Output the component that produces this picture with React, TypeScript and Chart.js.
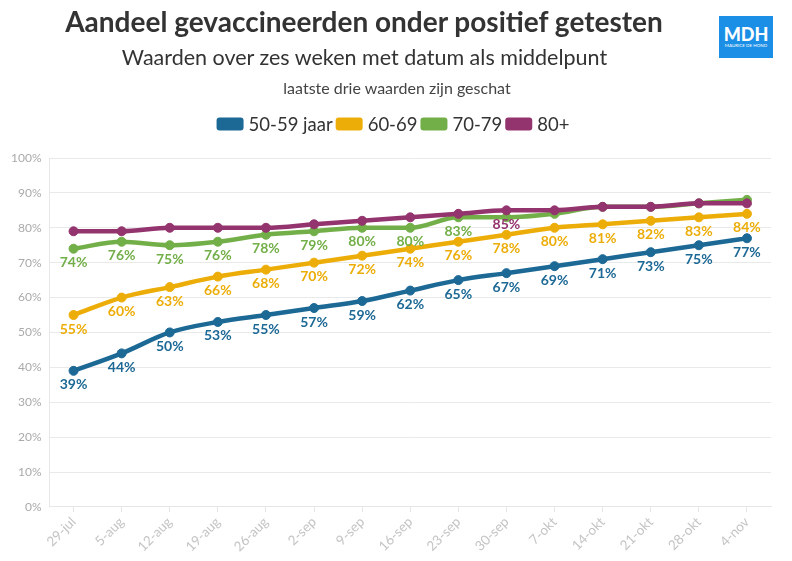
import React, { useEffect, useRef } from "react";
import { Chart, registerables } from "chart.js";

Chart.register(...registerables);

const categories = ["29-jul", "5-aug", "12-aug", "19-aug", "26-aug", "2-sep", "9-sep", "16-sep", "23-sep", "30-sep", "7-okt", "14-okt", "21-okt", "28-okt", "4-nov"];
const seriesNames = ["50-59 jaar", "60-69", "70-79", "80+"];
const seriesColors = ["#1D6996", "#EDAD08", "#73AF48", "#94346E"];
const values5059 = [39, 44, 50, 53, 55, 57, 59, 62, 65, 67, 69, 71, 73, 75, 77];
const values6069 = [55, 60, 63, 66, 68, 70, 72, 74, 76, 78, 80, 81, 82, 83, 84];
const values7079 = [74, 76, 75, 76, 78, 79, 80, 80, 83, 83, 84, 86, 86, 87, 88];
const values80plus = [79, 79, 80, 80, 80, 81, 82, 83, 84, 85, 85, 86, 86, 87, 87];
// which points carry a value label
const labels5059 = [1, 1, 1, 1, 1, 1, 1, 1, 1, 1, 1, 1, 1, 1, 1];
const labels6069 = [1, 1, 1, 1, 1, 1, 1, 1, 1, 1, 1, 1, 1, 1, 1];
const labels7079 = [1, 1, 1, 1, 1, 1, 1, 1, 1, 0, 0, 0, 0, 0, 0];
const labels80plus = [0, 0, 0, 0, 0, 0, 0, 0, 0, 1, 0, 0, 0, 0, 0];
const yMin = 0;
const yMax = 100;
const yStep = 10;

const titleText = "Aandeel gevaccineerden onder positief getesten";
const subtitleText = "Waarden over zes weken met datum als middelpunt";
const noteText = "laatste drie waarden zijn geschat";

const FONT = "Lato, 'Open Sans', sans-serif";

const valueLabelPlugin = {
  id: "valueLabels",
  afterDatasetsDraw(chart: any) {
    const ctx = chart.ctx;
    ctx.save();
    ctx.font = `bold 14px ${FONT}`;
    ctx.textAlign = "center";
    ctx.textBaseline = "middle";
    chart.data.datasets.forEach((ds: any, di: number) => {
      const meta = chart.getDatasetMeta(di);
      if (meta.hidden) return;
      meta.data.forEach((pt: any, i: number) => {
        if (!ds.showLabel || !ds.showLabel[i]) return;
        ctx.fillStyle = ds.borderColor;
        ctx.fillText(`${ds.data[i]}%`, pt.x, pt.y + 14);
      });
    });
    ctx.restore();
  },
};

// compact legend drawn from the datasets
const compactLegendPlugin = {
  id: "compactLegend",
  afterDraw(chart: any) {
    const ctx = chart.ctx;
    ctx.save();
    ctx.font = `18.5px ${FONT}`;
    ctx.textBaseline = "middle";
    ctx.textAlign = "left";
    const boxW = 27, boxH = 13, gapText = 5, gapItem = 3;
    const items = chart.data.datasets.map((ds: any) => ({
      text: ds.label,
      color: ds.borderColor,
      w: ctx.measureText(ds.label).width,
    }));
    const total = items.reduce((s: number, it: any) => s + boxW + gapText + it.w, 0) + gapItem * (items.length - 1);
    let x = 393 - total / 2;
    const cy = 124;
    items.forEach((it: any) => {
      ctx.fillStyle = it.color;
      ctx.beginPath();
      (ctx as any).roundRect(x, cy - boxH / 2, boxW, boxH, 3);
      ctx.fill();
      ctx.fillStyle = "#333";
      ctx.fillText(it.text, x + boxW + gapText, cy + 1);
      x += boxW + gapText + it.w + gapItem;
    });
    ctx.restore();
  },
};

export default function App() {
  const canvasRef = useRef<HTMLCanvasElement | null>(null);

  useEffect(() => {
    const canvas = canvasRef.current;
    if (!canvas) return;
    const mk = (i: number, data: number[], show: number[], order: number) => ({
      label: seriesNames[i],
      data,
      showLabel: show,
      borderColor: seriesColors[i],
      backgroundColor: seriesColors[i],
      pointBackgroundColor: seriesColors[i],
      pointBorderColor: seriesColors[i],
      borderWidth: 4.5,
      pointRadius: 4.5,
      pointBorderWidth: 1,
      cubicInterpolationMode: "monotone",
      order,
    });
    const chart = new Chart(canvas, {
      type: "line",
      data: {
        labels: categories,
        datasets: [
          mk(0, values5059, labels5059, 4),
          mk(1, values6069, labels6069, 3),
          mk(2, values7079, labels7079, 2),
          mk(3, values80plus, labels80plus, 1),
        ] as any,
      },
      options: {
        responsive: false,
        animation: false,
        devicePixelRatio: 1,
        layout: { padding: { top: 158, left: 3, right: 21, bottom: 4 } },
        plugins: {
          title: { display: false },
          tooltip: { enabled: false },
          legend: { display: false },
        },
        scales: {
          x: {
            offset: true,
            grid: {
              display: true,
              drawOnChartArea: false,
              drawTicks: true,
              tickLength: 5,
              color: "#e6e6e6",
            },
            border: { display: true, color: "#e6e6e6" },
            ticks: {
              minRotation: 45,
              maxRotation: 45,
              color: "#c4c4c4",
              font: { family: FONT, size: 13.5 },
              padding: 2,
            },
          },
          y: {
            min: yMin,
            max: yMax,
            grid: { color: "#e9e9e9", drawTicks: false },
            border: { display: true, color: "#e6e6e6" },
            ticks: {
              stepSize: yStep,
              color: "#aaaaaa",
              padding: 8,
              font: { family: FONT, size: 12 },
              callback: (v: any) => `${v}%`,
            },
          },
        },
      } as any,
      plugins: [valueLabelPlugin, compactLegendPlugin],
    });
    return () => chart.destroy();
  }, []);

  return (
    <div style={{ position: "absolute", left: 0, top: 0, width: 792, height: 561, background: "#fff", fontFamily: FONT, overflow: "hidden" }}>
      <canvas ref={canvasRef} width={792} height={561} style={{ position: "absolute", left: 0, top: 0, width: 792, height: 561 }} />
      <div style={{ position: "absolute", left: 0, top: 3, width: 728, textAlign: "center", fontSize: 28, fontWeight: 700, color: "#333", lineHeight: "36px", whiteSpace: "nowrap" }}>
        {titleText}
      </div>
      <div style={{ position: "absolute", left: 0, top: 43, width: 729, textAlign: "center", fontSize: 21.5, color: "#333", lineHeight: "28px", whiteSpace: "nowrap" }}>
        {subtitleText}
      </div>
      <div style={{ position: "absolute", left: 0, top: 77, width: 794, textAlign: "center", fontSize: 16, color: "#444", lineHeight: "22px", whiteSpace: "nowrap" }}>
        {noteText}
      </div>
      <div style={{ position: "absolute", left: 719, top: 16, width: 54, height: 42, background: "#1b8ee6", color: "#fff", textAlign: "center" }}>
        <div style={{ fontSize: 18, fontWeight: 900, lineHeight: "18px", marginTop: 9, letterSpacing: 0 }}>MDH</div>
        <div style={{ fontSize: 4.5, lineHeight: "6px", whiteSpace: "nowrap" }}>MAURICE DE HOND</div>
      </div>
    </div>
  );
}
